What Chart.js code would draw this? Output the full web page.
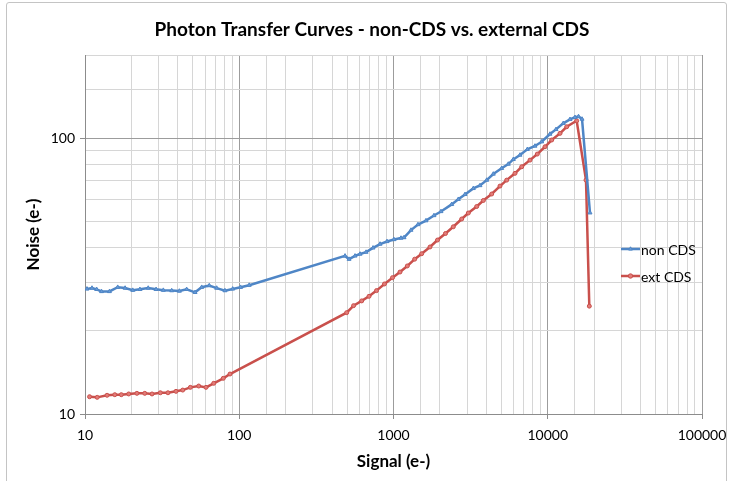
<!DOCTYPE html>
<html><head><meta charset="utf-8">
<script src="https://cdn.jsdelivr.net/npm/chart.js@4"></script>
<style>
html,body{margin:0;padding:0;background:#fff;}
#wrap{position:relative;width:731px;height:481px;overflow:hidden;}
#frame{position:absolute;left:6px;top:2px;width:719px;height:520px;border:1px solid #c4c4c4;border-radius:3px;pointer-events:none;}
</style></head><body>
<div id="wrap"><canvas id="c" width="731" height="481"></canvas><div id="frame"></div></div>
<script>
const chartTitle = 'Photon Transfer Curves - non-CDS vs. external CDS';
const xAxisTitle = 'Signal (e-)';
const yAxisTitle = 'Noise (e-)';
const seriesNames = ['non CDS', 'ext CDS'];
const xTickLabels = ['10', '100', '1000', '10000', '100000'];
const yTickLabels = ['10', '100'];

const nonCdsSignal = [10.3, 11.1, 11.9, 12.8, 14.4, 16.3, 18.2, 20.4, 22.7, 25.7, 28.9, 32.2, 36.5, 40.9, 45.6, 51.7, 57.1, 63.9, 71.4, 80.8, 90.7, 102, 116,
  485, 515, 563, 607, 664, 737, 818, 908, 1007, 1118, 1170, 1299, 1441, 1624, 1830, 2032, 2384, 2631, 2908, 3292, 3638, 4021, 4436, 5028, 5549, 5980, 6609, 7371, 8266, 9136, 10340, 11310, 12610, 13940, 15020, 15830, 16680, 18790];
const nonCdsNoise = [28.4, 28.6, 28.3, 27.8, 27.8, 28.8, 28.6, 28.1, 28.3, 28.6, 28.3, 28.1, 28.0, 27.9, 28.3, 27.6, 28.8, 29.2, 28.6, 28.0, 28.4, 28.8, 29.3,
  37.4, 36.4, 37.4, 38.0, 38.6, 40.0, 41.3, 42.2, 42.9, 43.4, 43.6, 46.4, 48.6, 50.2, 52.4, 54.2, 57.5, 60.0, 62.5, 65.7, 67.3, 70.4, 74.1, 77.7, 80.5, 83.7, 86.8, 91.0, 93.6, 97.0, 103.4, 107.5, 113.1, 116.9, 118.9, 119.7, 117.2, 53.6];

const extCdsSignal = [10.7, 12.0, 13.9, 15.6, 17.2, 19.2, 21.7, 24.4, 27.2, 30.8, 34.5, 38.9, 43.0, 48.2, 54.6, 60.9, 68.3, 78.8, 87.1,
  497, 551, 622, 694, 776, 874, 985, 1102, 1229, 1372, 1523, 1724, 1929, 2173, 2442, 2768, 3055, 3463, 3822, 4331, 4901, 5418, 6134, 6779, 7673, 8557, 9598, 10610, 12010, 13270, 15400, 17700, 18600];
const extCdsNoise = [11.55, 11.49, 11.69, 11.75, 11.75, 11.82, 11.88, 11.88, 11.82, 11.94, 11.94, 12.08, 12.21, 12.49, 12.63, 12.49, 12.92, 13.47, 13.96,
  23.3, 24.7, 25.7, 26.7, 28.0, 29.6, 31.2, 32.7, 34.4, 36.4, 38.1, 40.3, 42.7, 45.1, 47.7, 50.9, 53.5, 56.5, 59.4, 62.7, 67.0, 70.4, 74.5, 78.7, 83.2, 87.5, 93.0, 98.4, 104.0, 109.9, 115.5, 70.4, 24.6];

const blue = '#4F86C6', blueMarker = '#6A9CD8';
const red = '#C9504C', redMarker = '#E27C78';

function toPoints(xs, ys) { return xs.map((x, i) => ({x: x, y: ys[i]})); }
function isDecade(v) { const l = Math.log10(v); return Math.abs(l - Math.round(l)) < 1e-9; }
function gridColor(ctx) { return ctx.tick && isDecade(ctx.tick.value) ? '#9c9c9c' : '#d6d6d6'; }
function tickColor(ctx) { return ctx.tick && isDecade(ctx.tick.value) ? '#8c8c8c' : 'rgba(0,0,0,0)'; }

const extras = {
  id: 'extras',
  afterDraw(chart) {
    const ctx = chart.ctx;
    ctx.save();
    ctx.fillStyle = '#000';
    ctx.font = 'bold 19px Lato';
    ctx.textAlign = 'center';
    ctx.textBaseline = 'middle';
    ctx.fillText(chartTitle, 372, 30);
    const items = [
      {name: seriesNames[0], color: blue, marker: blueMarker, style: 'triangle', y: 249},
      {name: seriesNames[1], color: red, marker: redMarker, style: 'circle', y: 276}
    ];
    ctx.font = '14px Lato';
    ctx.textAlign = 'left';
    items.forEach(it => {
      ctx.strokeStyle = it.color;
      ctx.lineWidth = 2.5;
      ctx.beginPath(); ctx.moveTo(621, it.y); ctx.lineTo(640, it.y); ctx.stroke();
      ctx.lineWidth = 1;
      ctx.fillStyle = it.marker;
      Chart.helpers.drawPoint(ctx, {pointStyle: it.style, radius: 2.2, borderWidth: 1}, 630.5, it.y);
      ctx.fillStyle = '#000';
      ctx.fillText(it.name, 641, it.y + 1);
    });
    ctx.restore();
  }
};

new Chart(document.getElementById('c'), {
  type: 'scatter',
  data: {
    datasets: [
      {label: seriesNames[0], data: toPoints(nonCdsSignal, nonCdsNoise), showLine: true, borderColor: blue, borderWidth: 2.5,
       pointStyle: 'triangle', pointRadius: 2.3, pointBackgroundColor: blueMarker, pointBorderColor: blue, pointBorderWidth: 1},
      {label: seriesNames[1], data: toPoints(extCdsSignal, extCdsNoise), showLine: true, borderColor: red, borderWidth: 2.5,
       pointStyle: 'circle', pointRadius: 2.0, pointBackgroundColor: redMarker, pointBorderColor: red, pointBorderWidth: 1}
    ]
  },
  options: {
    responsive: false, animation: false, devicePixelRatio: 1,
    layout: {padding: {left: 0, right: 29, top: 55, bottom: 0}},
    plugins: {legend: {display: false}, title: {display: false}, tooltip: {enabled: false}},
    scales: {
      x: {
        type: 'logarithmic', min: 10, max: 100000,
        afterFit: s => { s.height = 67; s.paddingLeft = 0; s.paddingRight = 0; s.paddingTop = 0; s.paddingBottom = 0; },
        grid: {color: gridColor, lineWidth: 1, drawTicks: true, tickLength: 5, tickColor: tickColor},
        border: {color: '#8c8c8c', width: 1},
        ticks: {autoSkip: false, maxRotation: 0, minRotation: 0, padding: 8, color: '#000', font: {family: 'Lato', size: 14},
          callback: v => { const s = String(Math.round(v)); return xTickLabels.includes(s) && isDecade(v) ? s : ''; }},
        title: {display: true, text: xAxisTitle, color: '#000', font: {family: 'Lato', size: 17, weight: 'bold'}, padding: {top: 0, bottom: 9}}
      },
      y: {
        type: 'logarithmic', min: 10, max: 200,
        afterFit: s => { s.width = 85; s.paddingLeft = 0; s.paddingRight = 0; s.paddingTop = 0; s.paddingBottom = 0; },
        grid: {color: gridColor, lineWidth: 1, drawTicks: true, tickLength: 5, tickColor: tickColor},
        border: {color: '#8c8c8c', width: 1},
        ticks: {autoSkip: false, padding: 5, color: '#000', font: {family: 'Lato', size: 14},
          callback: v => { const s = String(Math.round(v)); return yTickLabels.includes(s) && isDecade(v) ? s : ''; }},
        title: {display: true, text: yAxisTitle, color: '#000', font: {family: 'Lato', size: 17, weight: 'bold'}, padding: {top: 23, bottom: 0}}
      }
    }
  },
  plugins: [extras]
});
</script>
</body></html>
